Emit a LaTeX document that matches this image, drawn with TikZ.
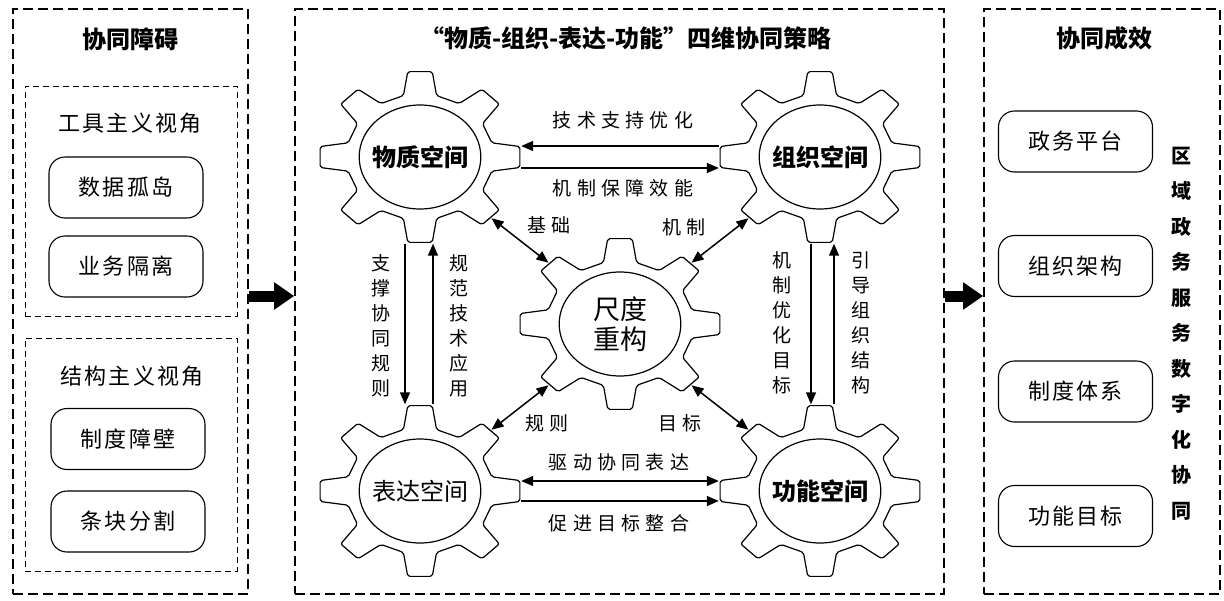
\documentclass[tikz,border=0pt]{standalone}
\usepackage{fontspec}
\setmainfont{Noto Sans CJK SC}
\newfontfamily\spfont[LetterSpace=10]{Noto Sans CJK SC}
\newfontfamily\wdfont[LetterSpace=28]{Noto Sans CJK SC}
\usetikzlibrary{arrows.meta, shapes.geometric}
\tikzset{
  panel/.style = {draw, dash pattern=on 10pt off 5pt, line width=1.6pt},
  subpanel/.style = {draw, dash pattern=on 6pt off 4pt, line width=0.9pt},
  head/.style = {font=\bfseries\fontsize{24}{28}\selectfont},
  sub/.style = {font=\spfont\fontsize{22}{26}\selectfont},
  item/.style = {draw, rounded corners=16pt, line width=1.1pt, minimum width=154pt,
    minimum height=61pt, font=\spfont\fontsize{22}{26}\selectfont},
  gearnode/.style = {ellipse, minimum width=202pt, minimum height=173pt, inner sep=0pt,
    font=\bfseries\fontsize{24}{28}\selectfont},
  gearline/.style = {line width=1.2pt, rounded corners=2pt},
  lbl/.style = {font=\wdfont\fontsize{19}{25}\selectfont, inner sep=1pt},
  vlbl/.style = {lbl, align=center},
  vtext/.style = {align=center, inner sep=0pt, font=\bfseries\fontsize{20}{35.5}\selectfont},
  arr/.style = {line width=1.5pt, -{Triangle[length=12pt,width=10pt]}},
  dblarr/.style = {line width=1.5pt, {Triangle[length=12pt,width=10pt]}-{Triangle[length=12pt,width=10pt]}},
  bigarr/.style = {line width=11pt, -{Triangle[length=20pt,width=26pt]}}
}
\newcommand\drawgear[1]{%
  \begin{scope}[shift={(#1.center)}, xscale=1.17]
    \draw[gearline] (-13:63pt) \foreach \a in {0,45,...,270}{ -- ({\a-7}:86pt) -- ({\a+7}:86pt)
      -- ({\a+13}:63pt) -- ({\a+32}:63pt)} -- (308:86pt) -- (322:86pt) -- (328:63pt) -- cycle;
    \draw[line width=1.2pt] (0,0) circle (52pt);
  \end{scope}}
\begin{document}
\begin{tikzpicture}[x=1pt, y=-1pt]
\useasboundingbox (0,0) rectangle (1224,600);
\node[panel, minimum width=235pt, minimum height=585pt] (zhangai) at (130.5,301.5) {};
\node[subpanel, minimum width=212pt, minimum height=230pt] (gongju) at (131,201) {};
\node[subpanel, minimum width=212pt, minimum height=233pt] (jiegou) at (131,454.5) {};
\node[panel, minimum width=649pt, minimum height=585pt] (celue) at (619.5,301.5) {};
\node[panel, minimum width=236pt, minimum height=585pt] (chengxiao) at (1102,301.5) {};

\node[head] (zhangaiT) at (130,39) {协同障碍};
\node[sub] (gongjuT) at (130,123) {工具主义视角};
\node[item] (shuju) at (126,187.5) {数据孤岛};
\node[item] (yewu) at (126,266.5) {业务隔离};
\node[sub] (jiegouT) at (132,376) {结构主义视角};
\node[item] (zhidu) at (128,439) {制度障壁};
\node[item] (tiaokuai) at (128,521.5) {条块分割};

\node[head] (celueT) at (626,38) {“物质-组织-表达-功能”四维协同策略};
\node[gearnode] (wuzhi) at (420,157) {物质空间};
\node[gearnode] (zuzhi) at (820,157) {组织空间};
\node[gearnode, align=center, font=\fontsize{27}{30}\selectfont] (chidu) at (620,324) {尺度\\重构};
\node[gearnode, font=\fontsize{24}{28}\selectfont] (biaoda) at (420,491) {表达空间};
\node[gearnode] (gongneng) at (820,491) {功能空间};
\drawgear{wuzhi}
\drawgear{zuzhi}
\drawgear{chidu}
\drawgear{biaoda}
\drawgear{gongneng}

\draw[arr] ([yshift=11pt]zuzhi.west) -- ([yshift=11pt]wuzhi.east);
\draw[arr] ([yshift=-11pt]wuzhi.east) -- ([yshift=-11pt]zuzhi.west);
\node[lbl] (jishu) at (623,120) {技术支持优化};
\node[lbl] (baozhang) at (623,188) {机制保障效能};
\draw[arr] ([xshift=-15pt]wuzhi.south) -- ([xshift=-15pt]biaoda.north);
\draw[arr] ([xshift=13pt]biaoda.north) -- ([xshift=13pt]wuzhi.south);
\node[vlbl] (zhicheng) at (381,325.5) {支\\撑\\协\\同\\规\\则};
\node[vlbl] (guifan) at (459,326) {规\\范\\技\\术\\应\\用};
\draw[arr] ([xshift=-9pt]zuzhi.south) -- ([xshift=-9pt]gongneng.north);
\draw[arr] ([xshift=14pt]gongneng.north) -- ([xshift=14pt]zuzhi.south);
\node[vlbl] (youhua) at (782,323) {机\\制\\优\\化\\目\\标};
\node[vlbl] (yindao) at (861,322.5) {引\\导\\组\\织\\结\\构};
\draw[dblarr] ([yshift=10pt]biaoda.east) -- ([yshift=10pt]gongneng.west);
\draw[arr] ([yshift=-10pt]biaoda.east) -- ([yshift=-10pt]gongneng.west);
\node[lbl] (qudong) at (619,462) {驱动协同表达};
\node[lbl] (cujin) at (619,523) {促进目标整合};
\draw[dblarr] (wuzhi.south east) -- (chidu.north west);
\draw[dblarr] (zuzhi.south west) -- (chidu.north east);
\draw[dblarr] (biaoda.north east) -- (chidu.south west);
\draw[dblarr] (gongneng.north west) -- (chidu.south east);
\node[lbl] (jichu) at (549,225) {基础};
\node[lbl] (jizhi) at (684,227) {机制};
\node[lbl] (guize) at (547,423) {规则};
\node[lbl] (mubiaoL) at (680,423) {目标};

\node[head] (chengxiaoT) at (1104,38) {协同成效};
\node[item] (pingtai) at (1075.5,141.5) {政务平台};
\node[item] (jiagou) at (1075.5,266) {组织架构};
\node[item] (tixi) at (1075.5,391.5) {制度体系};
\node[item] (mubiao) at (1075.5,516) {功能目标};
\node[vtext] (quyu) at (1181,333.5) {区\\域\\政\\务\\服\\务\\数\\字\\化\\协\\同};

\draw[bigarr] ([yshift=5.5pt]zhangai.east) -- ([yshift=5.5pt]celue.west);
\draw[bigarr] ([yshift=5.5pt]celue.east) -- ([yshift=5.5pt]chengxiao.west);
\end{tikzpicture}
\end{document}
